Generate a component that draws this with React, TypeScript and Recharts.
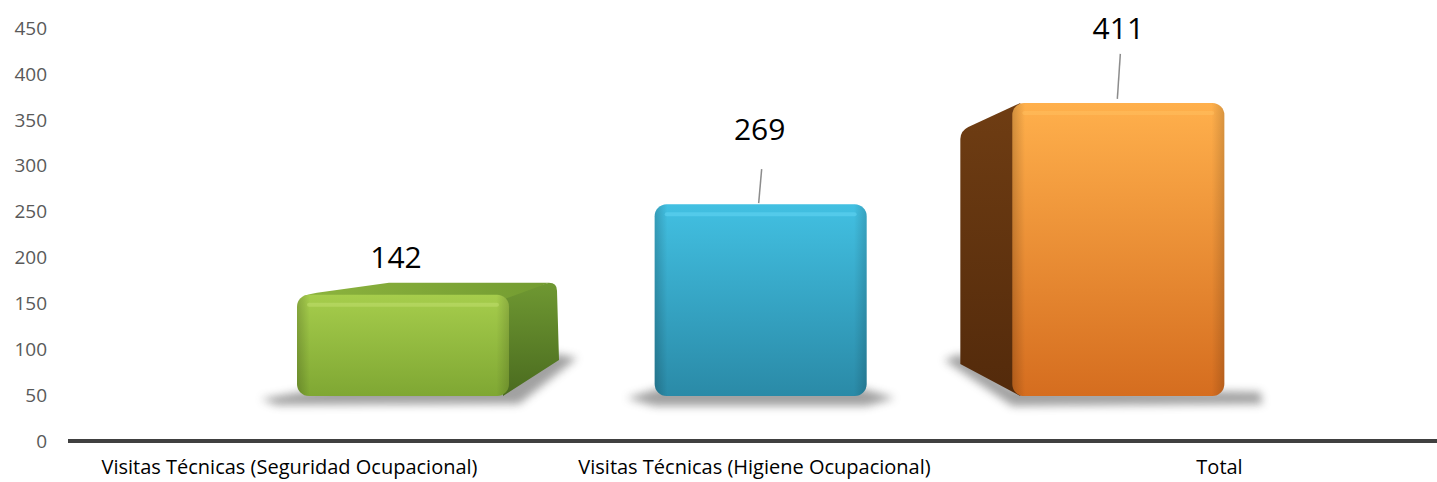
import { BarChart, Bar, XAxis, YAxis, LabelList } from "recharts";

const categories = [
  "Visitas Técnicas (Seguridad Ocupacional)",
  "Visitas Técnicas (Higiene Ocupacional)",
  "Total",
];
const values = [142, 269, 411];
const yTicks = [0, 50, 100, 150, 200, 250, 300, 350, 400, 450];

const data = categories.map((name, i) => ({ name, value: values[i] }));

const FONT = "'Open Sans', 'Noto Sans', sans-serif";

// look of each block, the side face fakes the excel 3d perspective
const looks = [
  {
    front: ["#a6cd4c", "#7fa733"],
    hi: "#c2e070",
    side: ["#6f9832", "#4a6b1f"],
    top: ["#8cb33e", "#739c31"],
    sideDir: 1,
    depth: 48,
    sideTop: -12,
    sideBottom: -36,
    topFace: true,
    labelDx: -7,
    labelDy: -27,
    leader: null as null | number[],
  },
  {
    front: ["#42c0e2", "#2a8aa7"],
    hi: "#66d8f6",
    side: ["#000", "#000"],
    top: ["#000", "#000"],
    sideDir: 0,
    depth: 0,
    sideTop: 0,
    sideBottom: 0,
    topFace: false,
    labelDx: -1,
    labelDy: -64,
    leader: [1, -35, -2, -1],
  },
  {
    front: ["#ffb04c", "#d56d1f"],
    hi: "#ffc060",
    side: ["#6f3d13", "#532a0b"],
    top: ["#000", "#000"],
    sideDir: -1,
    depth: 52,
    sideTop: 28,
    sideBottom: -32,
    topFace: false,
    labelDx: 0,
    labelDy: -64,
    leader: [2, -49, -1, -4],
  },
];

const Block = (props: any) => {
  const { x, y, width, height, index } = props;
  const L = looks[index];
  const b = y + height;
  const r = 12;
  const id = `blk${index}`;
  const w = width;

  let shadow = "";
  if (L.sideDir === 1) {
    shadow = `M${x - 36},${b + 3} L${x + 10},${b - 5} L${x + w + L.depth},${b - 42} L${x + w + L.depth + 20},${b - 38} L${x + w + 10},${b + 8} L${x - 20},${b + 9} Z`;
  } else if (L.sideDir === -1) {
    shadow = `M${x - L.depth - 16},${b - 36} L${x - L.depth},${b - 42} L${x},${b - 8} L${x + w + 36},${b - 4} L${x + w + 38},${b + 8} L${x},${b + 10} Z`;
  } else {
    shadow = `M${x - 28},${b + 2} L${x + 6},${b - 8} L${x + w - 6},${b - 8} L${x + w + 28},${b + 2} L${x + w},${b + 10} L${x},${b + 10} Z`;
  }

  let side = null;
  let top = null;
  if (L.sideDir === 1) {
    const sx = x + w;
    const ex = sx + L.depth;
    side = (
      <path
        d={`M${sx - 6},${y + 1} L${ex - 8},${y + L.sideTop} Q${ex},${y + L.sideTop} ${ex},${y + L.sideTop + 8} L${ex + 2},${b + L.sideBottom} L${sx - 6},${b} Z`}
        fill={`url(#${id}s)`}
      />
    );
    if (L.topFace) {
      top = (
        <path
          d={`M${x + 4},${y + 4} Q${x + 6},${y} ${x + 20},${y - 2} L${x + 92},${y + L.sideTop} L${ex - 8},${y + L.sideTop} L${sx - 4},${y + 4} Z`}
          fill={`url(#${id}t)`}
        />
      );
    }
  } else if (L.sideDir === -1) {
    const ex = x - L.depth;
    side = (
      <path
        d={`M${x + 8},${y} L${ex + 8},${y + L.sideTop - 4} Q${ex},${y + L.sideTop} ${ex},${y + L.sideTop + 8} L${ex},${b + L.sideBottom} L${x + 8},${b} Z`}
        fill={`url(#${id}s)`}
      />
    );
  }

  return (
    <g>
      <defs>
        <linearGradient id={`${id}f`} x1="0" y1="0" x2="0" y2="1">
          <stop offset="0%" stopColor={L.front[0]} />
          <stop offset="100%" stopColor={L.front[1]} />
        </linearGradient>
        <linearGradient id={`${id}e`} x1="0" y1="0" x2="1" y2="0">
          <stop offset="0%" stopColor="#000" stopOpacity={0.18} />
          <stop offset="6%" stopColor="#000" stopOpacity={0} />
          <stop offset="94%" stopColor="#000" stopOpacity={0} />
          <stop offset="100%" stopColor="#000" stopOpacity={0.15} />
        </linearGradient>
        <linearGradient id={`${id}s`} x1="0" y1="0" x2="0" y2="1">
          <stop offset="0%" stopColor={L.side[0]} />
          <stop offset="100%" stopColor={L.side[1]} />
        </linearGradient>
        <linearGradient id={`${id}t`} x1="0" y1="0" x2="1" y2="0">
          <stop offset="0%" stopColor={L.top[0]} />
          <stop offset="100%" stopColor={L.top[1]} />
        </linearGradient>
        <filter id={`${id}b`} x="-20%" y="-50%" width="140%" height="200%">
          <feGaussianBlur stdDeviation="4" />
        </filter>
      </defs>
      <path d={shadow} fill="#555" opacity={0.55} filter={`url(#${id}b)`} />
      {side}
      {top}
      <rect x={x} y={y} width={w} height={height} rx={r} ry={r} fill={`url(#${id}f)`} />
      <rect x={x} y={y} width={w} height={height} rx={r} ry={r} fill={`url(#${id}e)`} />
      <rect x={x + 10} y={y + 8} width={w - 20} height={4} rx={2} fill={L.hi} opacity={0.5} />
    </g>
  );
};

const renderLabel = (p: any) => {
  const vb = p.viewBox ?? p;
  const { x, y, width } = vb;
  const index = p.index ?? 0;
  const L = looks[index];
  const cx = x + width / 2;
  return (
    <g>
      {L.leader && (
        <line
          x1={cx + L.leader[0]}
          y1={y + L.leader[1]}
          x2={cx + L.leader[2]}
          y2={y + L.leader[3]}
          stroke="#8c8c8c"
          strokeWidth={1.5}
        />
      )}
      <text
        x={cx + L.labelDx}
        y={y + L.labelDy}
        textAnchor="middle"
        fontFamily={FONT}
        fontSize={30}
        fill="#000"
      >
        {p.value}
      </text>
    </g>
  );
};

export default function App() {
  return (
    <div style={{ width: 1437, height: 482, overflow: "hidden", background: "#fff" }}>
      <style>{`body{margin:0;}`}</style>
      <BarChart
        width={1452}
        height={482}
        data={data}
        margin={{ top: 28, right: 0, left: 0, bottom: 0 }}
      >
        <XAxis xAxisId="bars" dataKey="name" hide height={0} padding={{ left: 156, right: 155 }} />
        <YAxis yAxisId="bars" hide width={0} domain={[-63, 516]} allowDataOverflow />
        <XAxis
          xAxisId="cat"
          dataKey="name"
          padding={{ left: -11, right: 0 }}
          height={41}
          axisLine={{ stroke: "#404040", strokeWidth: 4 }}
          tickLine={false}
          tickMargin={13}
          tick={{ fontSize: 20, fill: "#000", fontFamily: FONT }}
        />
        <YAxis
          yAxisId="left"
          dataKey="value"
          domain={[0, 450]}
          allowDataOverflow
          ticks={yTicks}
          width={68}
          axisLine={false}
          tickLine={false}
          tickMargin={15}
          tick={{ fontSize: 19, fill: "#595959", fontFamily: FONT }}
        />
        <Bar
          dataKey="value"
          xAxisId="bars"
          yAxisId="bars"
          barSize={212}
          shape={Block}
          isAnimationActive={false}
        >
          <LabelList dataKey="value" content={renderLabel} />
        </Bar>
      </BarChart>
    </div>
  );
}
